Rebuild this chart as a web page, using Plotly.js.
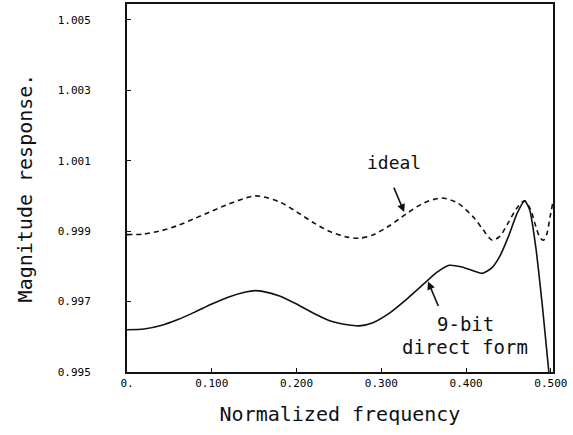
<!DOCTYPE html>
<html>
<head>
<meta charset="utf-8">
<script src="https://cdn.plot.ly/plotly-3.0.1.min.js"></script>
<style>html,body{margin:0;padding:0;background:#fff;}#chart{width:573px;height:435px;}</style>
</head>
<body>
<div id="chart"></div>
<script>
// Ideal response (dashed)
const idealFreq = [0, 0.02, 0.04, 0.06, 0.08, 0.10, 0.12, 0.14, 0.151, 0.16, 0.18, 0.20, 0.22, 0.24, 0.26, 0.274, 0.29, 0.31, 0.33, 0.35, 0.371, 0.39, 0.41, 0.42, 0.431, 0.44, 0.45, 0.46, 0.469, 0.476, 0.482, 0.487, 0.491, 0.495, 0.499, 0.502];
const idealMag = [0.99890, 0.99892, 0.99901, 0.99916, 0.99936, 0.99957, 0.99977, 0.99994, 1.00000, 0.99998, 0.99983, 0.99955, 0.99924, 0.99898, 0.99883, 0.99880, 0.99889, 0.99916, 0.99950, 0.99980, 0.99994, 0.99980, 0.99936, 0.99904, 0.99874, 0.99886, 0.99925, 0.99966, 0.99986, 0.99962, 0.99915, 0.99882, 0.99874, 0.99890, 0.99940, 0.99977];

// 9-bit direct form response (solid)
const bitFreq = [0, 0.02, 0.04, 0.06, 0.08, 0.10, 0.12, 0.14, 0.151, 0.16, 0.18, 0.20, 0.22, 0.24, 0.26, 0.274, 0.29, 0.31, 0.33, 0.35, 0.365, 0.38, 0.395, 0.41, 0.419, 0.43, 0.44, 0.45, 0.46, 0.469, 0.475, 0.482, 0.49, 0.4976];
const bitMag = [0.99620, 0.99622, 0.99632, 0.99649, 0.99670, 0.99693, 0.99713, 0.99727, 0.99731, 0.99729, 0.99716, 0.99693, 0.99667, 0.99645, 0.99634, 0.99631, 0.99640, 0.99668, 0.99707, 0.99750, 0.99782, 0.99803, 0.99798, 0.99786, 0.99780, 0.99795, 0.99830, 0.99885, 0.99950, 0.99986, 0.99960, 0.99858, 0.99687, 0.99500];

const xTickVals = [0, 0.1, 0.2, 0.3, 0.4, 0.5];
const xTickText = ["0.", "0.100", "0.200", "0.300", "0.400", "0.500"];
const yTickVals = [0.995, 0.997, 0.999, 1.001, 1.003, 1.005];
const yTickText = ["0.995", "0.997", "0.999", "1.001", "1.003", "1.005"];

const mono = "DejaVu Sans Mono, monospace";

const traces = [
  {x: idealFreq, y: idealMag, mode: "lines", line: {color: "#111", width: 1.6, dash: "5px,4px", shape: "spline", smoothing: 0.8}, hoverinfo: "skip"},
  {x: bitFreq, y: bitMag, mode: "lines", line: {color: "#111", width: 1.6, shape: "spline", smoothing: 0.6}, hoverinfo: "skip"}
];

const layout = {
  width: 573, height: 435,
  margin: {l: 127, r: 20, t: 4, b: 63},
  paper_bgcolor: "#fff", plot_bgcolor: "#fff",
  showlegend: false,
  font: {family: mono, color: "#111"},
  xaxis: {
    range: [0, 0.5025], tickvals: xTickVals, ticktext: xTickText,
    ticks: "inside", ticklen: 4, tickcolor: "#111",
    showline: true, mirror: true, linecolor: "#111", linewidth: 2,
    showgrid: false, zeroline: false,
    tickfont: {family: mono, size: 11, color: "#000"},
    title: {text: "Normalized frequency", font: {family: mono, size: 20, color: "#111"}, standoff: 18}
  },
  yaxis: {
    range: [0.995, 1.00545], tickvals: yTickVals, ticktext: yTickText,
    ticks: "inside", ticklen: 4, tickcolor: "#111",
    showline: true, mirror: true, linecolor: "#111", linewidth: 2,
    showgrid: false, zeroline: false,
    ticklabelstandoff: 32,
    tickfont: {family: mono, size: 11, color: "#000"},
    title: {text: "Magnitude response.", font: {family: mono, size: 20, color: "#111"}, standoff: 20}
  },
  annotations: [
    {x: 0.327, y: 0.99954, xref: "x", yref: "y", text: "", showarrow: true, arrowhead: 2, arrowsize: 1, arrowwidth: 1.6, arrowcolor: "#111", ax: -11, ay: -26},
    {x: 0.355, y: 0.99757, xref: "x", yref: "y", text: "", showarrow: true, arrowhead: 2, arrowsize: 1, arrowwidth: 1.6, arrowcolor: "#111", ax: 11, ay: 26},
    {x: 0.315, y: 1.00094, xref: "x", yref: "y", text: "ideal", showarrow: false, font: {family: mono, size: 18, color: "#111"}},
    {x: 0.399, y: 0.99636, xref: "x", yref: "y", text: "9-bit", showarrow: false, font: {family: mono, size: 19, color: "#111"}},
    {x: 0.399, y: 0.99571, xref: "x", yref: "y", text: "direct form", showarrow: false, font: {family: mono, size: 19, color: "#111"}}
  ]
};

Plotly.newPlot("chart", traces, layout, {staticPlot: true, displayModeBar: false});
</script>
</body>
</html>
